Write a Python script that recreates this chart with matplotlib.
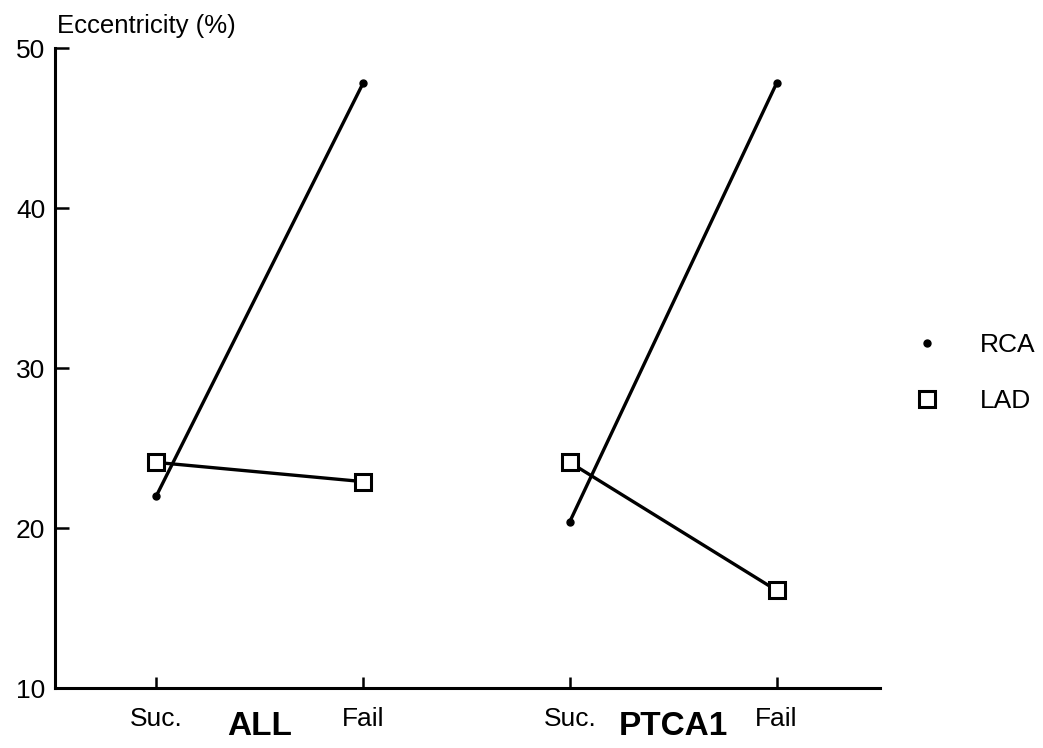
import matplotlib
matplotlib.use("Agg")
import matplotlib.pyplot as plt

plt.rcParams['font.family'] = ['Liberation Sans', 'DejaVu Sans']

groups = ["ALL", "PTCA1"]
outcomes = ["Suc.", "Fail"]
rca = [[22.0, 47.8], [20.4, 47.8]]
lad = [[24.1, 22.9], [24.1, 16.1]]
y_ticks = [10, 20, 30, 40, 50]

fig = plt.figure(figsize=(10.43, 7.48), dpi=100)
ax = fig.add_axes([0.0527, 0.0802, 0.791, 0.8556])

for g in range(len(groups)):
    xs = [2 * g + 1, 2 * g + 2]
    ax.plot(xs, rca[g], color="black", lw=2.4, marker="o", ms=5,
            solid_capstyle="round", label="RCA" if g == 0 else None)
    ax.plot(xs, lad[g], color="black", lw=2.4, marker="s", ms=11.5,
            mfc="white", mec="black", mew=2.2, zorder=3,
            label="LAD" if g == 0 else None)

ax.set_xlim(0.51, 4.50)
ax.set_ylim(10, 50)
ax.set_yticks(y_ticks)
ax.set_yticklabels([str(v) for v in y_ticks], fontsize=19)
ax.set_xticks([1, 2, 3, 4])
ax.set_xticklabels(outcomes * len(groups), fontsize=19)
ax.tick_params(direction="in", length=8, width=1.8)
ax.tick_params(axis="y", pad=7, length=10)
ax.tick_params(axis="x", pad=14)
for side in ("top", "right"):
    ax.spines[side].set_visible(False)
for side in ("left", "bottom"):
    ax.spines[side].set_linewidth(2.2)

for g, name in enumerate(groups):
    ax.text(2 * g + 1.5, -0.0734, name, transform=ax.get_xaxis_transform(),
            ha="center", va="baseline", fontsize=24, fontweight="bold")

ax.text(0.002, 1.0234, "Eccentricity (%)", transform=ax.transAxes,
        ha="left", va="baseline", fontsize=18.5)

ax.legend(loc="center left", bbox_to_anchor=(1.028, 0.492), frameon=False,
          fontsize=19, handlelength=0, handletextpad=2.0, labelspacing=1.2,
          markerscale=1.0)

fig.savefig("out.png", dpi=100, facecolor="white")
